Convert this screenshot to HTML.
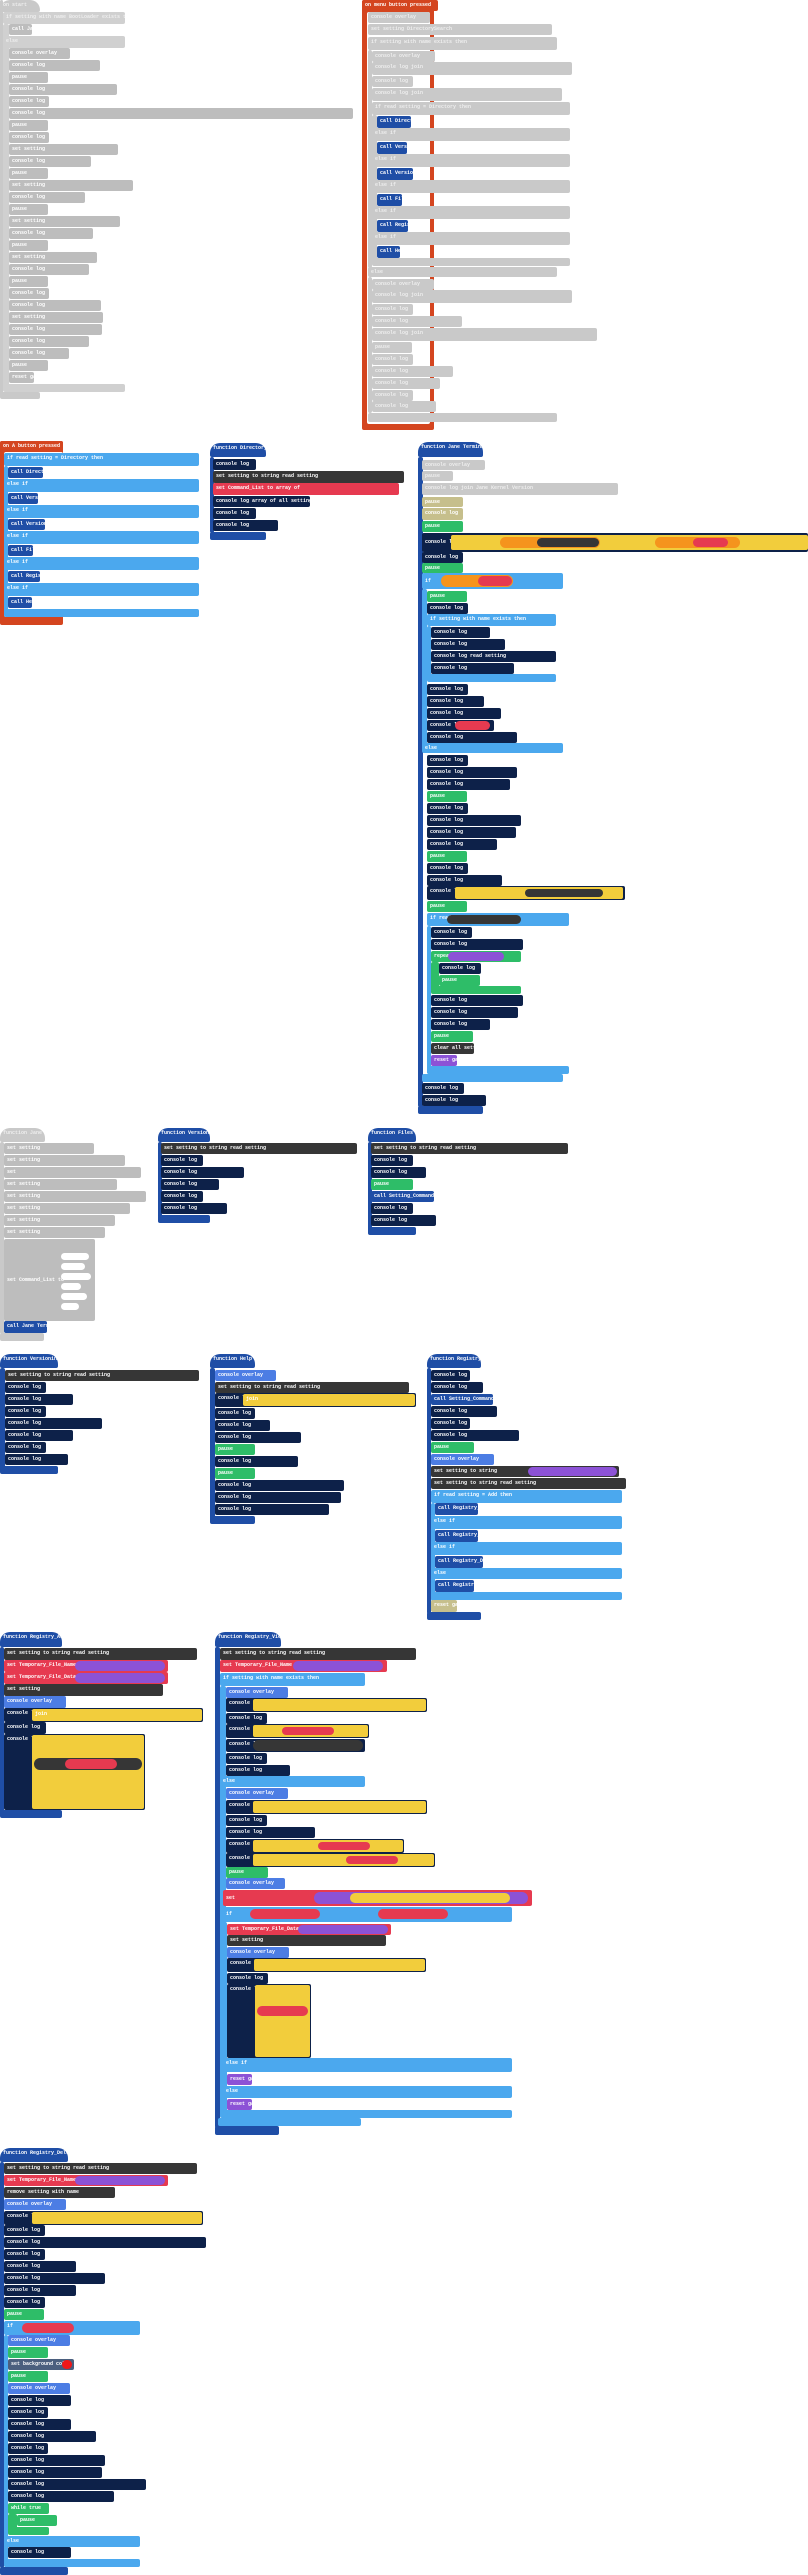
<!DOCTYPE html>
<html><head><meta charset="utf-8">
<style>
html,body{margin:0;padding:0;background:#fff;}
body{width:808px;height:2575px;position:relative;overflow:hidden;font-family:"Liberation Mono",monospace;}
.r{position:absolute;height:11px;border-radius:2px;font-size:5px;line-height:11px;color:#fff;padding-left:3px;box-sizing:border-box;white-space:nowrap;overflow:hidden;font-weight:bold;}
.g{background:#c9c9c9;color:#eee;}
.gd{background:#bdbdbd;}
.n{background:#0d2149;}
.fb{background:#1f4ea6;}
.lb{background:#4ba8ee;}
.gr{background:#2ebd68;}
.tan{background:#c6bf8c;}
.yl{background:#f2cd3c;}
.dk{background:#363636;}
.rd{background:#e63a50;}
.pu{background:#8c52d6;}
.ov{background:#4c7de4;}
.ev{background:#d4451f;}
.sl{background:#4b5f7e;}
.p{position:absolute;height:7px;border-radius:4px;background:#fff;}
.hat{border-radius:10px 10px 2px 2px;}
</style></head><body>

<!-- ============ on start (gray) ============ -->
<div class="r g hat" style="left:0;top:0;width:40px;height:12px">on start</div>
<div class="r g" style="left:3px;top:12px;width:122px;height:12px;background:#d0d0d0">if setting with name BootLoader exists then</div>
<div class="r g" style="left:3px;top:24px;width:6px;height:366px;background:#d0d0d0"></div>
<div class="r gd" style="left:9px;top:24px;width:23px">call Jane</div>
<div class="r g" style="left:3px;top:36px;width:122px;height:12px;background:#d0d0d0">else</div>
<div class="r gd" style="left:9px;top:48px;width:61px">console overlay</div>
<div class="r gd" style="left:9px;top:60px;width:91px">console log</div>
<div class="r gd" style="left:9px;top:72px;width:39px">pause</div>
<div class="r gd" style="left:9px;top:84px;width:108px">console log</div>
<div class="r gd" style="left:9px;top:96px;width:40px">console log</div>
<div class="r gd" style="left:9px;top:108px;width:344px">console log</div>
<div class="r gd" style="left:9px;top:120px;width:39px">pause</div>
<div class="r gd" style="left:9px;top:132px;width:40px">console log</div>
<div class="r gd" style="left:9px;top:144px;width:109px">set setting</div>
<div class="r gd" style="left:9px;top:156px;width:82px">console log</div>
<div class="r gd" style="left:9px;top:168px;width:39px">pause</div>
<div class="r gd" style="left:9px;top:180px;width:124px">set setting</div>
<div class="r gd" style="left:9px;top:192px;width:76px">console log</div>
<div class="r gd" style="left:9px;top:204px;width:39px">pause</div>
<div class="r gd" style="left:9px;top:216px;width:111px">set setting</div>
<div class="r gd" style="left:9px;top:228px;width:84px">console log</div>
<div class="r gd" style="left:9px;top:240px;width:39px">pause</div>
<div class="r gd" style="left:9px;top:252px;width:88px">set setting</div>
<div class="r gd" style="left:9px;top:264px;width:80px">console log</div>
<div class="r gd" style="left:9px;top:276px;width:39px">pause</div>
<div class="r gd" style="left:9px;top:288px;width:40px">console log</div>
<div class="r gd" style="left:9px;top:300px;width:92px">console log</div>
<div class="r gd" style="left:9px;top:312px;width:94px">set setting</div>
<div class="r gd" style="left:9px;top:324px;width:93px">console log</div>
<div class="r gd" style="left:9px;top:336px;width:80px">console log</div>
<div class="r gd" style="left:9px;top:348px;width:60px">console log</div>
<div class="r gd" style="left:9px;top:360px;width:39px">pause</div>
<div class="r gd" style="left:9px;top:372px;width:25px">reset game</div>
<div class="r g" style="left:3px;top:384px;width:122px;height:8px;background:#d0d0d0"></div>
<div class="r g" style="left:0;top:0;width:3px;height:398px"></div>
<div class="r g" style="left:0;top:392px;width:40px;height:7px"></div>

<!-- ============ on menu pressed (red) ============ -->
<div class="r ev" style="left:362px;top:0;width:72px;height:430px"></div>
<div class="r ev" style="left:362px;top:0;width:76px;height:11px">on menu button pressed</div>
<div class="r" style="left:367px;top:12px;width:63px;height:412px;background:#fff"></div>
<div class="r g" style="left:368px;top:12px;width:62px">console overlay</div>
<div class="r g" style="left:368px;top:24px;width:184px">set setting DirectorySearch</div>
<div class="r g" style="left:368px;top:37px;width:189px;height:13px">if setting with name exists then</div>
<div class="r g" style="left:368px;top:50px;width:4px;height:218px"></div>
<div class="r g" style="left:372px;top:51px;width:63px">console overlay</div>
<div class="r g" style="left:372px;top:62px;width:200px;height:13px">console log join</div>
<div class="r g" style="left:372px;top:76px;width:41px">console log</div>
<div class="r g" style="left:372px;top:88px;width:190px;height:13px">console log join</div>
<div class="r g" style="left:372px;top:102px;width:198px;height:13px">if read setting = Directory then</div>
<div class="r g" style="left:372px;top:115px;width:5px;height:150px"></div>
<div class="r fb" style="left:377px;top:116px;width:34px;height:12px">call Directory</div>
<div class="r g" style="left:372px;top:128px;width:198px;height:13px">else if</div>
<div class="r fb" style="left:377px;top:142px;width:30px;height:12px">call Version</div>
<div class="r g" style="left:372px;top:154px;width:198px;height:13px">else if</div>
<div class="r fb" style="left:377px;top:168px;width:36px;height:12px">call Versioning</div>
<div class="r g" style="left:372px;top:180px;width:198px;height:13px">else if</div>
<div class="r fb" style="left:377px;top:194px;width:25px;height:12px">call Files</div>
<div class="r g" style="left:372px;top:206px;width:198px;height:13px">else if</div>
<div class="r fb" style="left:377px;top:220px;width:31px;height:12px">call Registry</div>
<div class="r g" style="left:372px;top:232px;width:198px;height:13px">else if</div>
<div class="r fb" style="left:377px;top:246px;width:23px;height:12px">call Help</div>
<div class="r g" style="left:372px;top:258px;width:198px;height:8px"></div>
<div class="r g" style="left:368px;top:267px;width:189px;height:10px">else</div>
<div class="r g" style="left:368px;top:277px;width:4px;height:136px"></div>
<div class="r g" style="left:372px;top:279px;width:62px">console overlay</div>
<div class="r g" style="left:372px;top:290px;width:200px;height:13px">console log join</div>
<div class="r g" style="left:372px;top:304px;width:41px">console log</div>
<div class="r g" style="left:372px;top:316px;width:90px">console log</div>
<div class="r g" style="left:372px;top:328px;width:225px;height:13px">console log join</div>
<div class="r g" style="left:372px;top:342px;width:40px">pause</div>
<div class="r g" style="left:372px;top:354px;width:41px">console log</div>
<div class="r g" style="left:372px;top:366px;width:81px">console log</div>
<div class="r g" style="left:372px;top:378px;width:68px">console log</div>
<div class="r g" style="left:372px;top:390px;width:41px">console log</div>
<div class="r g" style="left:372px;top:401px;width:64px">console log</div>
<div class="r g" style="left:368px;top:413px;width:189px;height:9px"></div>

<!-- ============ on A pressed (red) ============ -->
<div class="r ev" style="left:0;top:441px;width:63px;height:184px"></div>
<div class="r ev" style="left:0;top:441px;width:63px;height:11px">on A button pressed</div>
<div class="r" style="left:4px;top:452px;width:59px;height:165px;background:#fff"></div>
<div class="r lb" style="left:4px;top:453px;width:195px;height:13px">if read setting = Directory then</div>
<div class="r lb" style="left:4px;top:466px;width:4px;height:150px"></div>
<div class="r fb" style="left:8px;top:467px;width:35px">call Directory</div>
<div class="r lb" style="left:4px;top:479px;width:195px;height:13px">else if</div>
<div class="r fb" style="left:8px;top:493px;width:30px">call Version</div>
<div class="r lb" style="left:4px;top:505px;width:195px;height:13px">else if</div>
<div class="r fb" style="left:8px;top:519px;width:37px">call Versioning</div>
<div class="r lb" style="left:4px;top:531px;width:195px;height:13px">else if</div>
<div class="r fb" style="left:8px;top:545px;width:25px">call Files</div>
<div class="r lb" style="left:4px;top:557px;width:195px;height:13px">else if</div>
<div class="r fb" style="left:8px;top:571px;width:32px">call Registry</div>
<div class="r lb" style="left:4px;top:583px;width:195px;height:13px">else if</div>
<div class="r fb" style="left:8px;top:597px;width:24px">call Help</div>
<div class="r lb" style="left:4px;top:609px;width:195px;height:8px"></div>

<!-- ============ function Directory ============ -->
<div class="r fb hat" style="left:210px;top:443px;width:56px;height:14px">function Directory</div>
<div class="r fb" style="left:210px;top:457px;width:4px;height:76px"></div>
<div class="r n" style="left:213px;top:459px;width:43px">console log</div>
<div class="r dk" style="left:213px;top:471px;width:191px;height:12px">set setting to string read setting</div>
<div class="r rd" style="left:213px;top:483px;width:186px;height:12px">set Command_List to array of</div>
<div class="r n" style="left:213px;top:496px;width:97px">console log array of all settings names</div>
<div class="r n" style="left:213px;top:508px;width:43px">console log</div>
<div class="r n" style="left:213px;top:520px;width:65px">console log</div>
<div class="r fb" style="left:210px;top:532px;width:56px;height:8px"></div>

<!-- ============ function Jane Terminal ============ -->
<div class="r fb hat" style="left:418px;top:442px;width:65px;height:15px">function Jane Terminal</div>
<div class="r fb" style="left:418px;top:457px;width:5px;height:650px"></div>
<div class="r g" style="left:422px;top:460px;width:63px;height:10px">console overlay</div>
<div class="r g" style="left:422px;top:471px;width:31px;height:10px">pause</div>
<div class="r g" style="left:422px;top:483px;width:196px;height:12px">console log join Jane Kernel Version</div>
<div class="r tan" style="left:422px;top:497px;width:41px;height:10px">pause</div>
<div class="r tan" style="left:422px;top:508px;width:41px;height:12px">console log</div>
<div class="r gr" style="left:422px;top:521px;width:41px;height:11px">pause</div>
<div class="r n" style="left:422px;top:533px;width:386px;height:19px;line-height:19px">console log</div>
<div class="r yl" style="left:451px;top:535px;width:357px;height:15px"></div>
<div class="r" style="left:500px;top:537px;width:100px;height:11px;background:#f5941d;border-radius:6px"></div>
<div class="r dk" style="left:537px;top:538px;width:62px;height:9px;border-radius:5px"></div>
<div class="r" style="left:655px;top:537px;width:85px;height:11px;background:#f5941d;border-radius:6px"></div>
<div class="r rd" style="left:693px;top:538px;width:35px;height:9px;border-radius:5px"></div>
<div class="r n" style="left:422px;top:552px;width:41px;height:11px">console log</div>
<div class="r gr" style="left:422px;top:563px;width:41px;height:10px">pause</div>
<div class="r lb" style="left:422px;top:573px;width:141px;height:16px;line-height:16px">if</div>
<div class="r" style="left:441px;top:575px;width:72px;height:12px;background:#f5941d;border-radius:6px"></div>
<div class="r rd" style="left:478px;top:576px;width:34px;height:10px;border-radius:5px"></div>
<div class="r lb" style="left:422px;top:589px;width:5px;height:160px"></div>
<div class="r gr" style="left:427px;top:591px;width:40px">pause</div>
<div class="r n" style="left:427px;top:603px;width:41px">console log</div>
<div class="r lb" style="left:427px;top:614px;width:129px;height:12px">if setting with name exists then</div>
<div class="r lb" style="left:427px;top:626px;width:4px;height:52px"></div>
<div class="r n" style="left:431px;top:627px;width:59px">console log</div>
<div class="r n" style="left:431px;top:639px;width:74px">console log</div>
<div class="r n" style="left:431px;top:651px;width:125px">console log read setting</div>
<div class="r n" style="left:431px;top:663px;width:83px">console log</div>
<div class="r lb" style="left:427px;top:674px;width:129px;height:8px"></div>
<div class="r n" style="left:427px;top:684px;width:41px">console log</div>
<div class="r n" style="left:427px;top:696px;width:57px">console log</div>
<div class="r n" style="left:427px;top:708px;width:74px">console log</div>
<div class="r n" style="left:427px;top:720px;width:67px">console log</div>
<div class="r rd" style="left:455px;top:721px;width:35px;height:9px;border-radius:5px"></div>
<div class="r n" style="left:427px;top:732px;width:90px">console log</div>
<div class="r lb" style="left:422px;top:743px;width:141px;height:10px">else</div>
<div class="r n" style="left:427px;top:755px;width:41px">console log</div>
<div class="r n" style="left:427px;top:767px;width:90px">console log</div>
<div class="r n" style="left:427px;top:779px;width:83px">console log</div>
<div class="r gr" style="left:427px;top:791px;width:40px">pause</div>
<div class="r n" style="left:427px;top:803px;width:41px">console log</div>
<div class="r n" style="left:427px;top:815px;width:94px">console log</div>
<div class="r n" style="left:427px;top:827px;width:89px">console log</div>
<div class="r n" style="left:427px;top:839px;width:70px">console log</div>
<div class="r gr" style="left:427px;top:851px;width:40px">pause</div>
<div class="r n" style="left:427px;top:863px;width:41px">console log</div>
<div class="r n" style="left:427px;top:875px;width:75px">console log</div>
<div class="r n" style="left:427px;top:886px;width:198px;height:14px">console log</div>
<div class="r yl" style="left:455px;top:887px;width:168px;height:12px"></div>
<div class="r dk" style="left:525px;top:889px;width:78px;height:8px;border-radius:4px"></div>
<div class="r gr" style="left:427px;top:901px;width:40px">pause</div>
<div class="r lb" style="left:427px;top:913px;width:142px;height:13px">if read setting</div>
<div class="r dk" style="left:447px;top:915px;width:74px;height:9px;border-radius:5px"></div>
<div class="r lb" style="left:427px;top:926px;width:4px;height:148px"></div>
<div class="r n" style="left:431px;top:927px;width:41px">console log</div>
<div class="r n" style="left:431px;top:939px;width:92px">console log</div>
<div class="r gr" style="left:431px;top:951px;width:90px">repeat</div>
<div class="r pu" style="left:448px;top:952px;width:56px;height:9px;border-radius:5px"></div>
<div class="r gr" style="left:431px;top:962px;width:8px;height:30px"></div>
<div class="r n" style="left:439px;top:963px;width:42px">console log</div>
<div class="r gr" style="left:439px;top:975px;width:41px">pause</div>
<div class="r gr" style="left:431px;top:986px;width:90px;height:8px"></div>
<div class="r n" style="left:431px;top:995px;width:92px">console log</div>
<div class="r n" style="left:431px;top:1007px;width:87px">console log</div>
<div class="r n" style="left:431px;top:1019px;width:59px">console log</div>
<div class="r gr" style="left:431px;top:1031px;width:42px">pause</div>
<div class="r dk" style="left:431px;top:1043px;width:43px">clear all settings</div>
<div class="r pu" style="left:431px;top:1055px;width:26px">reset game</div>
<div class="r lb" style="left:427px;top:1066px;width:142px;height:8px"></div>
<div class="r lb" style="left:422px;top:1074px;width:141px;height:8px"></div>
<div class="r n" style="left:422px;top:1083px;width:42px">console log</div>
<div class="r n" style="left:422px;top:1095px;width:64px">console log</div>
<div class="r fb" style="left:418px;top:1106px;width:65px;height:8px"></div>

<!-- ============ function Jane (gray) ============ -->
<div class="r g hat" style="left:0;top:1128px;width:45px;height:14px">function Jane</div>
<div class="r g" style="left:0;top:1142px;width:4px;height:192px"></div>
<div class="r gd" style="left:4px;top:1143px;width:90px">set setting</div>
<div class="r gd" style="left:4px;top:1155px;width:121px">set setting</div>
<div class="r gd" style="left:4px;top:1167px;width:137px">set</div>
<div class="r gd" style="left:4px;top:1179px;width:113px">set setting</div>
<div class="r gd" style="left:4px;top:1191px;width:142px">set setting</div>
<div class="r gd" style="left:4px;top:1203px;width:126px">set setting</div>
<div class="r gd" style="left:4px;top:1215px;width:111px">set setting</div>
<div class="r gd" style="left:4px;top:1227px;width:101px">set setting</div>
<div class="r gd" style="left:4px;top:1239px;width:91px;height:82px;line-height:82px">set Command_List to</div>
<div class="p" style="left:61px;top:1253px;width:28px"></div>
<div class="p" style="left:61px;top:1263px;width:24px"></div>
<div class="p" style="left:61px;top:1273px;width:30px"></div>
<div class="p" style="left:61px;top:1283px;width:20px"></div>
<div class="p" style="left:61px;top:1293px;width:26px"></div>
<div class="p" style="left:61px;top:1303px;width:18px"></div>
<div class="r fb" style="left:4px;top:1321px;width:43px;height:12px">call Jane Terminal</div>
<div class="r g" style="left:0;top:1333px;width:44px;height:8px"></div>

<!-- ============ function Version ============ -->
<div class="r fb hat" style="left:158px;top:1128px;width:52px;height:14px">function Version</div>
<div class="r fb" style="left:158px;top:1142px;width:4px;height:76px"></div>
<div class="r dk" style="left:161px;top:1143px;width:196px">set setting to string read setting</div>
<div class="r n" style="left:161px;top:1155px;width:42px">console log</div>
<div class="r n" style="left:161px;top:1167px;width:83px">console log</div>
<div class="r n" style="left:161px;top:1179px;width:58px">console log</div>
<div class="r n" style="left:161px;top:1191px;width:42px">console log</div>
<div class="r n" style="left:161px;top:1203px;width:66px">console log</div>
<div class="r fb" style="left:158px;top:1215px;width:52px;height:8px"></div>

<!-- ============ function Files ============ -->
<div class="r fb hat" style="left:368px;top:1128px;width:48px;height:14px">function Files</div>
<div class="r fb" style="left:368px;top:1142px;width:4px;height:90px"></div>
<div class="r dk" style="left:371px;top:1143px;width:197px">set setting to string read setting</div>
<div class="r n" style="left:371px;top:1155px;width:42px">console log</div>
<div class="r n" style="left:371px;top:1167px;width:55px">console log</div>
<div class="r gr" style="left:371px;top:1179px;width:42px">pause</div>
<div class="r fb" style="left:371px;top:1191px;width:63px">call Setting_Command_List</div>
<div class="r n" style="left:371px;top:1203px;width:42px">console log</div>
<div class="r n" style="left:371px;top:1215px;width:65px">console log</div>
<div class="r fb" style="left:368px;top:1227px;width:48px;height:8px"></div>

<!-- ============ function Versioning ============ -->
<div class="r fb hat" style="left:0;top:1354px;width:58px;height:14px">function Versioning</div>
<div class="r fb" style="left:0;top:1368px;width:5px;height:104px"></div>
<div class="r dk" style="left:5px;top:1370px;width:194px">set setting to string read setting</div>
<div class="r n" style="left:5px;top:1382px;width:41px">console log</div>
<div class="r n" style="left:5px;top:1394px;width:68px">console log</div>
<div class="r n" style="left:5px;top:1406px;width:41px">console log</div>
<div class="r n" style="left:5px;top:1418px;width:97px">console log</div>
<div class="r n" style="left:5px;top:1430px;width:68px">console log</div>
<div class="r n" style="left:5px;top:1442px;width:41px">console log</div>
<div class="r n" style="left:5px;top:1454px;width:63px">console log</div>
<div class="r fb" style="left:0;top:1466px;width:58px;height:8px"></div>

<!-- ============ function Help ============ -->
<div class="r fb hat" style="left:210px;top:1354px;width:45px;height:14px">function Help</div>
<div class="r fb" style="left:210px;top:1368px;width:5px;height:154px"></div>
<div class="r ov" style="left:215px;top:1370px;width:61px">console overlay</div>
<div class="r dk" style="left:215px;top:1382px;width:194px">set setting to string read setting</div>
<div class="r n" style="left:215px;top:1393px;width:201px;height:14px">console log</div>
<div class="r yl" style="left:243px;top:1394px;width:172px;height:12px">join</div>
<div class="r n" style="left:215px;top:1408px;width:40px">console log</div>
<div class="r n" style="left:215px;top:1420px;width:55px">console log</div>
<div class="r n" style="left:215px;top:1432px;width:86px">console log</div>
<div class="r gr" style="left:215px;top:1444px;width:40px">pause</div>
<div class="r n" style="left:215px;top:1456px;width:83px">console log</div>
<div class="r gr" style="left:215px;top:1468px;width:40px">pause</div>
<div class="r n" style="left:215px;top:1480px;width:129px">console log</div>
<div class="r n" style="left:215px;top:1492px;width:126px">console log</div>
<div class="r n" style="left:215px;top:1504px;width:114px">console log</div>
<div class="r fb" style="left:210px;top:1516px;width:45px;height:8px"></div>

<!-- ============ function Registry ============ -->
<div class="r fb hat" style="left:427px;top:1354px;width:54px;height:14px">function Registry</div>
<div class="r fb" style="left:427px;top:1368px;width:4px;height:246px"></div>
<div class="r n" style="left:431px;top:1370px;width:39px">console log</div>
<div class="r n" style="left:431px;top:1382px;width:52px">console log</div>
<div class="r fb" style="left:431px;top:1394px;width:62px">call Setting_Command_List</div>
<div class="r n" style="left:431px;top:1406px;width:66px">console log</div>
<div class="r n" style="left:431px;top:1418px;width:39px">console log</div>
<div class="r n" style="left:431px;top:1430px;width:88px">console log</div>
<div class="r gr" style="left:431px;top:1442px;width:43px">pause</div>
<div class="r ov" style="left:431px;top:1454px;width:63px">console overlay</div>
<div class="r dk" style="left:431px;top:1466px;width:188px">set setting to string</div>
<div class="r pu" style="left:528px;top:1467px;width:89px;height:9px;border-radius:5px"></div>
<div class="r dk" style="left:431px;top:1478px;width:195px">set setting to string read setting</div>
<div class="r lb" style="left:431px;top:1490px;width:191px;height:13px">if read setting = Add then</div>
<div class="r lb" style="left:431px;top:1503px;width:4px;height:98px"></div>
<div class="r fb" style="left:435px;top:1503px;width:43px;height:12px">call Registry_Add</div>
<div class="r lb" style="left:431px;top:1516px;width:191px;height:13px">else if</div>
<div class="r fb" style="left:435px;top:1530px;width:43px;height:12px">call Registry_View</div>
<div class="r lb" style="left:431px;top:1542px;width:191px;height:13px">else if</div>
<div class="r fb" style="left:435px;top:1556px;width:48px;height:12px">call Registry_Delete</div>
<div class="r lb" style="left:431px;top:1568px;width:191px;height:11px">else</div>
<div class="r fb" style="left:435px;top:1580px;width:39px;height:12px">call RegistryAll</div>
<div class="r lb" style="left:431px;top:1592px;width:191px;height:8px"></div>
<div class="r tan" style="left:431px;top:1600px;width:26px;height:12px">reset game</div>
<div class="r fb" style="left:427px;top:1612px;width:54px;height:8px"></div>

<!-- ============ function Registry_Add ============ -->
<div class="r fb hat" style="left:0;top:1632px;width:62px;height:15px">function Registry_Add</div>
<div class="r fb" style="left:0;top:1647px;width:4px;height:168px"></div>
<div class="r dk" style="left:4px;top:1648px;width:193px;height:12px">set setting to string read setting</div>
<div class="r rd" style="left:4px;top:1660px;width:164px;height:12px">set Temporary_File_Name to</div>
<div class="r pu" style="left:75px;top:1661px;width:90px;height:10px;border-radius:5px"></div>
<div class="r rd" style="left:4px;top:1672px;width:164px;height:12px">set Temporary_File_Data to</div>
<div class="r pu" style="left:75px;top:1673px;width:90px;height:10px;border-radius:5px"></div>
<div class="r dk" style="left:4px;top:1684px;width:159px;height:12px">set setting</div>
<div class="r ov" style="left:4px;top:1696px;width:62px;height:12px">console overlay</div>
<div class="r n" style="left:4px;top:1708px;width:199px;height:14px">console log</div>
<div class="r yl" style="left:32px;top:1709px;width:170px;height:12px">join</div>
<div class="r n" style="left:4px;top:1722px;width:42px;height:12px">console log</div>
<div class="r n" style="left:4px;top:1734px;width:141px;height:76px">console log</div>
<div class="r yl" style="left:32px;top:1735px;width:112px;height:74px"></div>
<div class="r dk" style="left:34px;top:1758px;width:108px;height:12px;border-radius:6px"></div>
<div class="r rd" style="left:65px;top:1759px;width:52px;height:10px;border-radius:5px"></div>
<div class="r fb" style="left:0;top:1810px;width:62px;height:8px"></div>

<!-- ============ function Registry_View ============ -->
<div class="r fb hat" style="left:215px;top:1632px;width:66px;height:15px">function Registry_View</div>
<div class="r fb" style="left:215px;top:1647px;width:5px;height:481px"></div>
<div class="r dk" style="left:220px;top:1648px;width:196px;height:12px">set setting to string read setting</div>
<div class="r rd" style="left:220px;top:1660px;width:167px;height:12px">set Temporary_File_Name to</div>
<div class="r pu" style="left:293px;top:1661px;width:90px;height:10px;border-radius:5px"></div>
<div class="r lb" style="left:220px;top:1673px;width:145px;height:13px">if setting with name exists then</div>
<div class="r lb" style="left:220px;top:1686px;width:6px;height:432px"></div>
<div class="r ov" style="left:226px;top:1687px;width:62px">console overlay</div>
<div class="r n" style="left:226px;top:1698px;width:201px;height:14px">console log</div>
<div class="r yl" style="left:253px;top:1699px;width:173px;height:12px"></div>
<div class="r n" style="left:226px;top:1713px;width:41px">console log</div>
<div class="r n" style="left:226px;top:1724px;width:143px;height:14px">console log</div>
<div class="r yl" style="left:253px;top:1725px;width:115px;height:12px"></div>
<div class="r rd" style="left:282px;top:1727px;width:52px;height:8px;border-radius:4px"></div>
<div class="r n" style="left:226px;top:1739px;width:139px;height:13px">console log</div>
<div class="r dk" style="left:253px;top:1740px;width:110px;height:11px;border-radius:6px"></div>
<div class="r n" style="left:226px;top:1753px;width:41px">console log</div>
<div class="r n" style="left:226px;top:1765px;width:64px">console log</div>
<div class="r lb" style="left:220px;top:1776px;width:145px;height:11px">else</div>
<div class="r ov" style="left:226px;top:1788px;width:62px">console overlay</div>
<div class="r n" style="left:226px;top:1800px;width:201px;height:14px">console log</div>
<div class="r yl" style="left:253px;top:1801px;width:173px;height:12px"></div>
<div class="r n" style="left:226px;top:1815px;width:41px">console log</div>
<div class="r n" style="left:226px;top:1827px;width:89px">console log</div>
<div class="r n" style="left:226px;top:1839px;width:178px;height:14px">console log</div>
<div class="r yl" style="left:253px;top:1840px;width:150px;height:12px"></div>
<div class="r rd" style="left:318px;top:1842px;width:52px;height:8px;border-radius:4px"></div>
<div class="r n" style="left:226px;top:1853px;width:209px;height:14px">console log</div>
<div class="r yl" style="left:253px;top:1854px;width:181px;height:12px"></div>
<div class="r rd" style="left:346px;top:1856px;width:52px;height:8px;border-radius:4px"></div>
<div class="r gr" style="left:226px;top:1867px;width:42px">pause</div>
<div class="r ov" style="left:226px;top:1878px;width:59px">console overlay</div>
<div class="r rd" style="left:223px;top:1890px;width:309px;height:16px;line-height:16px">set</div>
<div class="r pu" style="left:314px;top:1892px;width:214px;height:12px;border-radius:6px"></div>
<div class="r yl" style="left:350px;top:1893px;width:160px;height:10px;border-radius:5px"></div>
<div class="r lb" style="left:223px;top:1907px;width:289px;height:15px;line-height:15px">if</div>
<div class="r rd" style="left:250px;top:1909px;width:70px;height:10px;border-radius:5px"></div>
<div class="r rd" style="left:378px;top:1909px;width:70px;height:10px;border-radius:5px"></div>
<div class="r lb" style="left:223px;top:1922px;width:4px;height:196px"></div>
<div class="r rd" style="left:227px;top:1924px;width:164px;height:11px">set Temporary_File_Data to</div>
<div class="r pu" style="left:298px;top:1925px;width:90px;height:9px;border-radius:5px"></div>
<div class="r dk" style="left:227px;top:1935px;width:159px">set setting</div>
<div class="r ov" style="left:227px;top:1947px;width:62px">console overlay</div>
<div class="r n" style="left:227px;top:1958px;width:199px;height:14px">console log</div>
<div class="r yl" style="left:254px;top:1959px;width:171px;height:12px"></div>
<div class="r n" style="left:227px;top:1973px;width:41px">console log</div>
<div class="r n" style="left:227px;top:1984px;width:84px;height:74px">console log</div>
<div class="r yl" style="left:255px;top:1985px;width:55px;height:72px"></div>
<div class="r rd" style="left:257px;top:2006px;width:51px;height:10px;border-radius:5px"></div>
<div class="r lb" style="left:223px;top:2058px;width:289px;height:14px">else if</div>
<div class="r pu" style="left:227px;top:2074px;width:25px">reset game</div>
<div class="r lb" style="left:223px;top:2086px;width:289px;height:12px">else</div>
<div class="r pu" style="left:227px;top:2099px;width:25px">reset game</div>
<div class="r lb" style="left:223px;top:2110px;width:289px;height:8px"></div>
<div class="r lb" style="left:218px;top:2118px;width:143px;height:8px"></div>
<div class="r fb" style="left:215px;top:2126px;width:64px;height:9px"></div>

<!-- ============ function Registry_Delete ============ -->
<div class="r fb hat" style="left:0;top:2148px;width:68px;height:14px">function Registry_Delete</div>
<div class="r fb" style="left:0;top:2162px;width:4px;height:406px"></div>
<div class="r dk" style="left:4px;top:2163px;width:193px">set setting to string read setting</div>
<div class="r rd" style="left:4px;top:2175px;width:164px">set Temporary_File_Name to</div>
<div class="r pu" style="left:75px;top:2176px;width:90px;height:9px;border-radius:5px"></div>
<div class="r dk" style="left:4px;top:2187px;width:111px">remove setting with name</div>
<div class="r ov" style="left:4px;top:2199px;width:62px">console overlay</div>
<div class="r n" style="left:4px;top:2211px;width:199px;height:14px">console log</div>
<div class="r yl" style="left:32px;top:2212px;width:170px;height:12px"></div>
<div class="r n" style="left:4px;top:2225px;width:41px">console log</div>
<div class="r n" style="left:4px;top:2237px;width:202px">console log</div>
<div class="r n" style="left:4px;top:2249px;width:41px">console log</div>
<div class="r n" style="left:4px;top:2261px;width:72px">console log</div>
<div class="r n" style="left:4px;top:2273px;width:101px">console log</div>
<div class="r n" style="left:4px;top:2285px;width:72px">console log</div>
<div class="r n" style="left:4px;top:2297px;width:41px">console log</div>
<div class="r gr" style="left:4px;top:2309px;width:40px">pause</div>
<div class="r lb" style="left:4px;top:2321px;width:136px;height:14px">if</div>
<div class="r rd" style="left:22px;top:2323px;width:52px;height:10px;border-radius:5px"></div>
<div class="r lb" style="left:4px;top:2335px;width:4px;height:232px"></div>
<div class="r ov" style="left:8px;top:2335px;width:62px">console overlay</div>
<div class="r gr" style="left:8px;top:2347px;width:40px">pause</div>
<div class="r sl" style="left:8px;top:2359px;width:66px">set background color to</div>
<div class="r" style="left:62px;top:2360px;width:10px;height:9px;border-radius:5px;background:#f01818"></div>
<div class="r gr" style="left:8px;top:2371px;width:40px">pause</div>
<div class="r ov" style="left:8px;top:2383px;width:62px">console overlay</div>
<div class="r n" style="left:8px;top:2395px;width:63px">console log</div>
<div class="r n" style="left:8px;top:2407px;width:40px">console log</div>
<div class="r n" style="left:8px;top:2419px;width:63px">console log</div>
<div class="r n" style="left:8px;top:2431px;width:88px">console log</div>
<div class="r n" style="left:8px;top:2443px;width:40px">console log</div>
<div class="r n" style="left:8px;top:2455px;width:97px">console log</div>
<div class="r n" style="left:8px;top:2467px;width:94px">console log</div>
<div class="r n" style="left:8px;top:2479px;width:138px">console log</div>
<div class="r n" style="left:8px;top:2491px;width:106px">console log</div>
<div class="r gr" style="left:8px;top:2503px;width:41px">while true</div>
<div class="r gr" style="left:8px;top:2514px;width:9px;height:18px"></div>
<div class="r gr" style="left:17px;top:2515px;width:40px">pause</div>
<div class="r gr" style="left:8px;top:2527px;width:41px;height:8px"></div>
<div class="r lb" style="left:4px;top:2536px;width:136px;height:11px">else</div>
<div class="r n" style="left:8px;top:2547px;width:63px">console log</div>
<div class="r lb" style="left:4px;top:2559px;width:136px;height:8px"></div>
<div class="r fb" style="left:0;top:2567px;width:68px;height:8px"></div>

</body></html>
